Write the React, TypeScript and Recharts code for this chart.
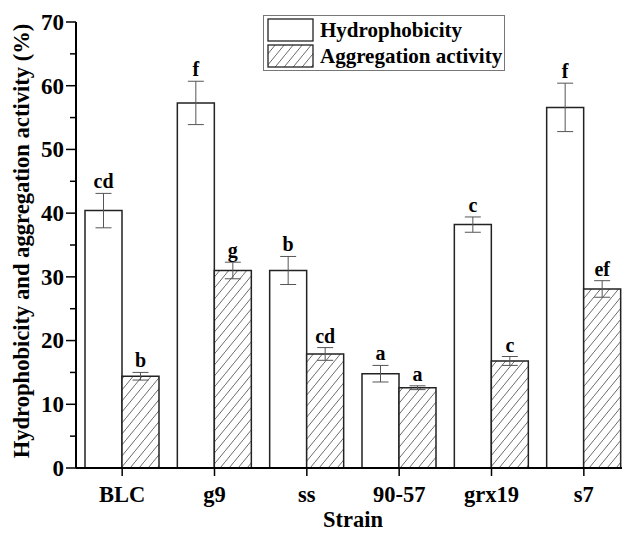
import React from 'react';
import { BarChart, Bar, XAxis, YAxis, ErrorBar, LabelList, Legend } from 'recharts';

const strains = ['BLC', 'g9', 'ss', '90-57', 'grx19', 's7'];
const hydrophobicity = [40.4, 57.3, 31.0, 14.8, 38.2, 56.6];
const hydrophobicityErr = [2.7, 3.4, 2.2, 1.3, 1.2, 3.8];
const hydrophobicityLetters = ['cd', 'f', 'b', 'a', 'c', 'f'];
const aggregation = [14.4, 31.0, 17.9, 12.6, 16.8, 28.1];
const aggregationErr = [0.6, 1.3, 1.0, 0.3, 0.7, 1.3];
const aggregationLetters = ['b', 'g', 'cd', 'a', 'c', 'ef'];
const yTicks = [0, 5, 10, 15, 20, 25, 30, 35, 40, 45, 50, 55, 60, 65, 70];

const data = strains.map((strain, i) => ({
  strain,
  hydro: hydrophobicity[i],
  hydroErr: hydrophobicityErr[i],
  hydroLetter: hydrophobicityLetters[i],
  agg: aggregation[i],
  aggErr: aggregationErr[i],
  aggLetter: aggregationLetters[i],
}));

const FONT = "'Liberation Serif', 'Times New Roman', serif";
const AXIS_X = 76;

const YTick = (props: any) => {
  const { y, payload } = props;
  const major = payload.value % 10 === 0;
  return (
    <g>
      <line x1={AXIS_X - (major ? 10 : 6)} x2={AXIS_X} y1={y} y2={y} stroke="#000" strokeWidth={1.5} />
      {major && (
        <text x={64} y={y} dy={7.8} textAnchor="end" fontFamily={FONT} fontWeight="bold" fontSize={23} fill="#000">
          {payload.value}
        </text>
      )}
    </g>
  );
};

const XTick = (props: any) => {
  const { x, payload } = props;
  return (
    <text x={x} y={502} textAnchor="middle" fontFamily={FONT} fontWeight="bold" fontSize={22.5} fill="#000">
      {payload.value}
    </text>
  );
};

const letterLabel = (values: number[], errs: number[]) => (props: any) => {
  const { x, y, width, height, value, index } = props;
  const pxPerUnit = height / values[index];
  const top = y - errs[index] * pxPerUnit;
  return (
    <text x={x + width / 2} y={top - 5} textAnchor="middle" fontFamily={FONT} fontWeight="bold" fontSize={20} fill="#000">
      {value}
    </text>
  );
};

const LegendBox = () => (
  <div
    style={{
      border: '1.5px solid #777',
      background: '#fff',
      padding: '2px 3px',
      width: 234,
      fontFamily: FONT,
      fontWeight: 'bold',
      fontSize: 21,
      lineHeight: '24px',
      boxSizing: 'content-box',
    }}
  >
    <div style={{ display: 'flex', alignItems: 'center', marginBottom: 2 }}>
      <svg width={47} height={24} style={{ display: 'block', flex: 'none' }}>
        <rect x={1} y={1} width={45} height={22} fill="#fff" stroke="#222" strokeWidth={1.3} />
      </svg>
      <span style={{ marginLeft: 6, whiteSpace: 'nowrap' }}>Hydrophobicity</span>
    </div>
    <div style={{ display: 'flex', alignItems: 'center' }}>
      <svg width={47} height={24} style={{ display: 'block', flex: 'none' }}>
        <defs>
          <pattern id="hatchLegend" patternUnits="userSpaceOnUse" width={9} height={11}>
            <path d="M0,11 L9,0" stroke="#444" strokeWidth={0.8} />
          </pattern>
        </defs>
        <rect x={1} y={1} width={45} height={22} fill="url(#hatchLegend)" stroke="#222" strokeWidth={1.3} />
      </svg>
      <span style={{ marginLeft: 6, whiteSpace: 'nowrap' }}>Aggregation activity</span>
    </div>
  </div>
);

export default function App() {
  return (
    <div style={{ position: 'fixed', left: 0, top: 0, width: 622, height: 533, overflow: 'hidden', background: '#fff' }}>
      <BarChart
        width={630}
        height={533}
        data={data}
        margin={{ top: 22, right: 0, left: 0, bottom: 0 }}
        barCategoryGap={9}
        barGap={0}
      >
        <defs>
          <pattern id="hatch" patternUnits="userSpaceOnUse" width={9} height={11}>
            <rect width={9} height={11} fill="#fff" />
            <path d="M0,11 L9,0" stroke="#444" strokeWidth={0.8} />
          </pattern>
        </defs>
        <XAxis
          dataKey="strain"
          height={65}
          axisLine={{ stroke: '#000', strokeWidth: 2 }}
          tickLine={{ stroke: '#000', strokeWidth: 1.5 }}
          tickSize={8}
          tick={<XTick />}
          interval={0}
          label={{
            content: () => (
              <text x={353} y={527} textAnchor="middle" fontFamily={FONT} fontWeight="bold" fontSize={22.5} fill="#000">
                Strain
              </text>
            ),
          }}
        />
        <YAxis
          width={AXIS_X}
          domain={[0, 70]}
          ticks={yTicks}
          interval={0}
          axisLine={{ stroke: '#000', strokeWidth: 2 }}
          tickLine={false}
          tick={<YTick />}
          label={{
            content: () => (
              <text
                x={21}
                y={241}
                transform="rotate(-90 21 241)"
                textAnchor="middle"
                dominantBaseline="central"
                fontFamily={FONT}
                fontWeight="bold"
                fontSize={22.6}
                fill="#000"
              >
                Hydrophobicity and aggregation activity (%)
              </text>
            ),
          }}
        />
        <Legend
          layout="vertical"
          align="center"
          verticalAlign="middle"
          content={() => <LegendBox />}
          wrapperStyle={{ position: 'absolute', left: 263, top: 15, width: 242, height: 58 }}
        />
        <Bar dataKey="hydro" fill="#fff" stroke="#222" strokeWidth={1.5} isAnimationActive={false}>
          <ErrorBar dataKey="hydroErr" width={8} stroke="#555" strokeWidth={1} direction="y" />
          <LabelList dataKey="hydroLetter" content={letterLabel(hydrophobicity, hydrophobicityErr)} />
        </Bar>
        <Bar dataKey="agg" fill="url(#hatch)" stroke="#222" strokeWidth={1.5} isAnimationActive={false}>
          <ErrorBar dataKey="aggErr" width={8} stroke="#555" strokeWidth={1} direction="y" />
          <LabelList dataKey="aggLetter" content={letterLabel(aggregation, aggregationErr)} />
        </Bar>
      </BarChart>
    </div>
  );
}
